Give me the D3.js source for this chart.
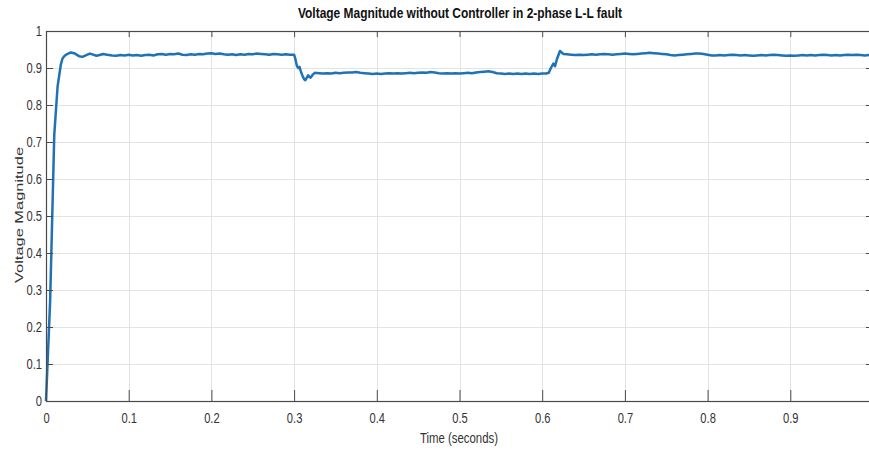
<!DOCTYPE html>
<html>
<head>
<meta charset="utf-8">
<script src="https://cdn.jsdelivr.net/npm/d3@7"></script>
<style>
  html, body { margin: 0; padding: 0; background: #fff; }
  svg { display: block; font-family: "Liberation Sans", Arial, sans-serif; }
</style>
</head>
<body>
<svg id="chart" width="869" height="454"></svg>
<script>
// Time axis samples (s)
const timeS = [
  0, 0.005, 0.010, 0.014, 0.018, 0.020, 0.022, 0.025, 0.030, 0.035, 0.040, 0.044, 0.048, 0.053, 0.057, 0.061, 0.065, 0.069, 0.074, 0.080,
  0.085, 0.090, 0.095, 0.100, 0.105, 0.110, 0.115, 0.120, 0.125, 0.130, 0.135, 0.140, 0.145, 0.150, 0.155, 0.160, 0.165, 0.170, 0.175, 0.180,
  0.185, 0.190, 0.195, 0.200, 0.205, 0.210, 0.215, 0.220, 0.225, 0.230, 0.235, 0.240, 0.245, 0.250, 0.255, 0.260, 0.265, 0.270, 0.275, 0.280,
  0.285, 0.290, 0.295, 0.300,
  0.3015, 0.3035, 0.305, 0.3065, 0.308, 0.310, 0.312, 0.3135, 0.3155, 0.317, 0.3185, 0.320, 0.3225, 0.325, 0.330,
  0.335, 0.340, 0.345, 0.350, 0.355, 0.360, 0.365, 0.370, 0.375, 0.380, 0.385, 0.390, 0.395, 0.400, 0.405, 0.410, 0.415, 0.420, 0.425, 0.430,
  0.435, 0.440, 0.445, 0.450, 0.455, 0.460, 0.465, 0.470, 0.475, 0.480, 0.485, 0.490, 0.495, 0.500, 0.505, 0.510, 0.515, 0.520, 0.525, 0.530,
  0.535, 0.540, 0.545, 0.550, 0.555, 0.560, 0.565, 0.570, 0.575, 0.580, 0.585, 0.590, 0.595, 0.600, 0.605,
  0.608, 0.6105, 0.6135, 0.6155, 0.618, 0.6215, 0.6235, 0.6255, 0.630,
  0.635, 0.640, 0.645, 0.650, 0.655, 0.660, 0.665, 0.670, 0.675, 0.680, 0.685, 0.690, 0.695, 0.700, 0.705, 0.710, 0.715, 0.720, 0.725, 0.730,
  0.735, 0.740, 0.745, 0.750, 0.755, 0.760, 0.765, 0.770, 0.775, 0.780, 0.785, 0.790, 0.795, 0.800, 0.805, 0.810, 0.815, 0.820, 0.825, 0.830,
  0.835, 0.840, 0.845, 0.850, 0.855, 0.860, 0.865, 0.870, 0.875, 0.880, 0.885, 0.890, 0.895, 0.900, 0.905, 0.910, 0.915, 0.920, 0.925, 0.930,
  0.935, 0.940, 0.945, 0.950, 0.955, 0.960, 0.965, 0.970, 0.975, 0.980, 0.985, 0.990, 0.995, 1.000
];

// Voltage magnitude (p.u.) at each sample
const voltage = [
  0, 0.27, 0.72, 0.85, 0.91, 0.926, 0.932, 0.937, 0.942, 0.939, 0.932, 0.930, 0.934, 0.939, 0.936, 0.933, 0.935, 0.938, 0.936, 0.934,
  0.933, 0.935, 0.934, 0.936, 0.934, 0.935, 0.933, 0.935, 0.936, 0.934, 0.937, 0.938, 0.936, 0.938, 0.937, 0.939, 0.936, 0.935, 0.937, 0.936,
  0.938, 0.937, 0.939, 0.940, 0.938, 0.939, 0.937, 0.936, 0.937, 0.935, 0.937, 0.936, 0.938, 0.937, 0.939, 0.938, 0.937, 0.936, 0.938, 0.937,
  0.936, 0.937, 0.936, 0.936,
  0.925, 0.905, 0.900, 0.903, 0.892, 0.880, 0.870, 0.867, 0.874, 0.880, 0.876, 0.874, 0.882, 0.887, 0.886,
  0.885, 0.886, 0.885, 0.887, 0.886, 0.887, 0.888, 0.888, 0.889, 0.887, 0.886, 0.885, 0.884, 0.885, 0.884, 0.885, 0.886, 0.885, 0.886, 0.885,
  0.886, 0.887, 0.886, 0.887, 0.888, 0.887, 0.889, 0.888, 0.886, 0.885, 0.886, 0.885, 0.886, 0.885, 0.886, 0.887, 0.886, 0.888, 0.889, 0.890,
  0.891, 0.889, 0.886, 0.885, 0.884, 0.885, 0.884, 0.885, 0.884, 0.885, 0.884, 0.885, 0.884, 0.885, 0.885,
  0.887, 0.900, 0.912, 0.905, 0.925, 0.946, 0.942, 0.938, 0.937,
  0.936, 0.935, 0.936, 0.935, 0.936, 0.937, 0.936, 0.937, 0.938, 0.937, 0.936, 0.937, 0.938, 0.939, 0.938, 0.937, 0.938, 0.939, 0.940, 0.941,
  0.940, 0.939, 0.938, 0.937, 0.935, 0.934, 0.935, 0.936, 0.937, 0.938, 0.939, 0.939, 0.938, 0.936, 0.934, 0.934, 0.935, 0.934, 0.935, 0.936,
  0.935, 0.934, 0.935, 0.934, 0.933, 0.934, 0.935, 0.934, 0.935, 0.936, 0.935, 0.934, 0.933, 0.934, 0.933, 0.934, 0.935, 0.934, 0.935, 0.934,
  0.935, 0.936, 0.935, 0.934, 0.935, 0.934, 0.935, 0.936, 0.935, 0.936, 0.935, 0.934, 0.935, 0.935
];

const xTicks = [0, 0.1, 0.2, 0.3, 0.4, 0.5, 0.6, 0.7, 0.8, 0.9, 1];
const xTickLabels = ["0", "0.1", "0.2", "0.3", "0.4", "0.5", "0.6", "0.7", "0.8", "0.9", ""];
const yTicks = [0, 0.1, 0.2, 0.3, 0.4, 0.5, 0.6, 0.7, 0.8, 0.9, 1];
const yTickLabels = ["0", "0.1", "0.2", "0.3", "0.4", "0.5", "0.6", "0.7", "0.8", "0.9", "1"];
const titleText = "Voltage Magnitude without Controller in 2-phase L-L fault";
const xLabel = "Time (seconds)";
const yLabel = "Voltage Magnitude";

const svg = d3.select("#chart");
const plotLeft = 46, plotRight = 873, plotTop = 31, plotBottom = 401;
const squeeze = 0.72; // horizontal condensing of the label glyphs

const x = d3.scaleLinear().domain([0, 1]).range([plotLeft, plotRight]);
const y = d3.scaleLinear().domain([0, 1]).range([plotBottom, plotTop]);

// grid
const grid = svg.append("g").attr("stroke", "#e3e3e3").attr("stroke-width", 1);
grid.selectAll(".gx").data(xTicks.slice(1, -1)).join("line")
  .attr("x1", d => Math.round(x(d)) + 0.5).attr("x2", d => Math.round(x(d)) + 0.5)
  .attr("y1", plotTop).attr("y2", plotBottom);
grid.selectAll(".gy").data(yTicks.slice(1, -1)).join("line")
  .attr("y1", d => Math.round(y(d)) + 0.5).attr("y2", d => Math.round(y(d)) + 0.5)
  .attr("x1", plotLeft).attr("x2", plotRight);

// data line
const line = d3.line().x((d, i) => x(timeS[i])).y(d => y(d));
svg.append("path")
  .datum(voltage)
  .attr("d", line)
  .attr("fill", "none")
  .attr("stroke", "#1f72b6")
  .attr("stroke-width", 2.5)
  .attr("stroke-linejoin", "round");

// axes
const axisColor = "#4a4a4a";

const gx = svg.append("g").attr("transform", `translate(0,${plotBottom})`)
  .call(d3.axisBottom(x).tickValues(xTicks).tickSize(-11).tickPadding(11)
    .tickFormat((d, i) => xTickLabels[i]));
const gy = svg.append("g").attr("transform", `translate(${plotLeft},0)`)
  .call(d3.axisLeft(y).tickValues(yTicks).tickSize(-7).tickPadding(4)
    .tickFormat((d, i) => yTickLabels[i]));
const gt = svg.append("g").attr("transform", `translate(0,${plotTop})`)
  .call(d3.axisTop(x).tickValues(xTicks).tickSize(-6).tickFormat(""));
const gr = svg.append("g").attr("transform", `translate(${plotRight},0)`)
  .call(d3.axisRight(y).tickValues(yTicks).tickSize(-7).tickFormat(""));

[gx, gy, gt, gr].forEach(g => {
  g.select(".domain").remove();
  g.selectAll(".tick line").attr("stroke", axisColor);
  g.selectAll("text").attr("fill", "#333").attr("font-size", 15.5)
    .attr("font-family", "'Liberation Sans', Arial, sans-serif");
});
gx.selectAll(".tick text").attr("transform", `scale(${squeeze},1)`);
gy.selectAll(".tick text").attr("x", -4 / squeeze).attr("transform", `scale(${squeeze},1)`);

// frame
svg.append("rect")
  .attr("x", plotLeft + 0.5).attr("y", plotTop + 0.5)
  .attr("width", plotRight - plotLeft).attr("height", plotBottom - plotTop)
  .attr("fill", "none").attr("stroke", axisColor).attr("stroke-width", 1.2);

// title and axis labels
svg.append("text")
  .attr("x", 460).attr("y", 18)
  .attr("text-anchor", "middle")
  .attr("font-size", 14).attr("font-weight", "bold").attr("fill", "#111")
  .attr("textLength", 324).attr("lengthAdjust", "spacingAndGlyphs")
  .text(titleText);

svg.append("text")
  .attr("x", 459).attr("y", 443)
  .attr("text-anchor", "middle")
  .attr("font-size", 14.5).attr("fill", "#333")
  .attr("textLength", 78).attr("lengthAdjust", "spacingAndGlyphs")
  .text(xLabel);

svg.append("text")
  .attr("transform", "translate(23,215) rotate(-90) scale(1,0.75)")
  .attr("text-anchor", "middle")
  .attr("font-size", 15).attr("fill", "#333")
  .attr("textLength", 136).attr("lengthAdjust", "spacingAndGlyphs")
  .text(yLabel);
</script>
</body>
</html>
